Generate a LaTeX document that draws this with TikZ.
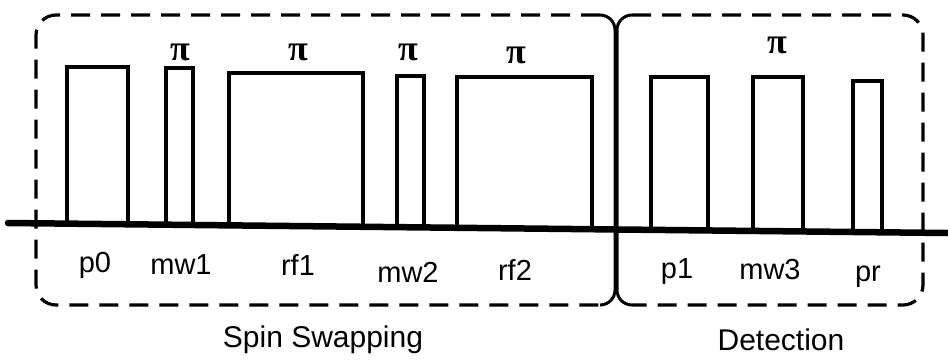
\documentclass[tikz,border=0pt]{standalone}
\usepackage{fontspec}
\setmainfont{Liberation Sans}
\newfontfamily\pifont{Liberation Serif}

\begin{document}
\begin{tikzpicture}
  [x=1pt,y=-1pt,
   pulse/.style={draw,line width=3.2pt},
   lbl/.style={font=\fontsize{29}{34}\selectfont,inner sep=0pt},
   pilbl/.style={font=\pifont\bfseries\fontsize{36}{40}\selectfont,inner sep=0pt},
   frame/.style={draw,line width=3.2pt,dash pattern=on 19pt off 11pt,rounded corners=20pt},
   joint/.style={draw,line width=3pt,rounded corners=15pt}]
  \useasboundingbox (0,0) rectangle (948,360);
  % pulses: left/right/top/bottom
  \foreach \l/\r/\t/\b in {67/128/67/224,166/193/68/225,229/363/73/226,
      397/424/76/227,457/592/77/229,651/708/77/230,753/803/77/231,853/882/81/232}
    \draw[pulse] (\l,\b) -- (\l,\t) -- (\r,\t) -- (\r,\b);
  % time axis
  \coordinate (t0) at (8,223);
  \coordinate (t1) at (948,233);
  \draw[line width=6.5pt,line cap=round] (t0) -- (t1);
  % blocks
  \draw[frame] (600,15) -- (36,15) -- (36,305) -- (600,305);
  \draw[joint] (600,15) -- (615,15) -- (615,305) -- (600,305);
  \draw[frame] (632,15) -- (923,15) -- (923,305) -- (632,305);
  \draw[joint] (632,15) -- (617,15) -- (617,305) -- (632,305);
  % pulse names
  \node[lbl] (p0) at (95,265) {p0};
  \node[lbl] (mw1) at (181,265) {mw1};
  \node[lbl] (rf1) at (298,265) {rf1};
  \node[lbl] (mw2) at (408,272) {mw2};
  \node[lbl] (rf2) at (515,270) {rf2};
  \node[lbl] (p1) at (677,272) {p1};
  \node[lbl] (mw3) at (770,270) {mw3};
  \node[lbl] (pr) at (868,277) {pr};
  % pulse angles
  \node[pilbl] (pimw1) at (180,52) {π};
  \node[pilbl] (pirf1) at (298,52) {π};
  \node[pilbl] (pimw2) at (408,52) {π};
  \node[pilbl] (pirf2) at (516,55) {π};
  \node[pilbl] (pimw3) at (777,45) {π};
  % block names
  \node[lbl,font=\fontsize{30}{36}\selectfont] (swap) at (323,340) {Spin Swapping};
  \node[lbl,font=\fontsize{30}{36}\selectfont] (det) at (781,340) {Detection};
\end{tikzpicture}
\end{document}
